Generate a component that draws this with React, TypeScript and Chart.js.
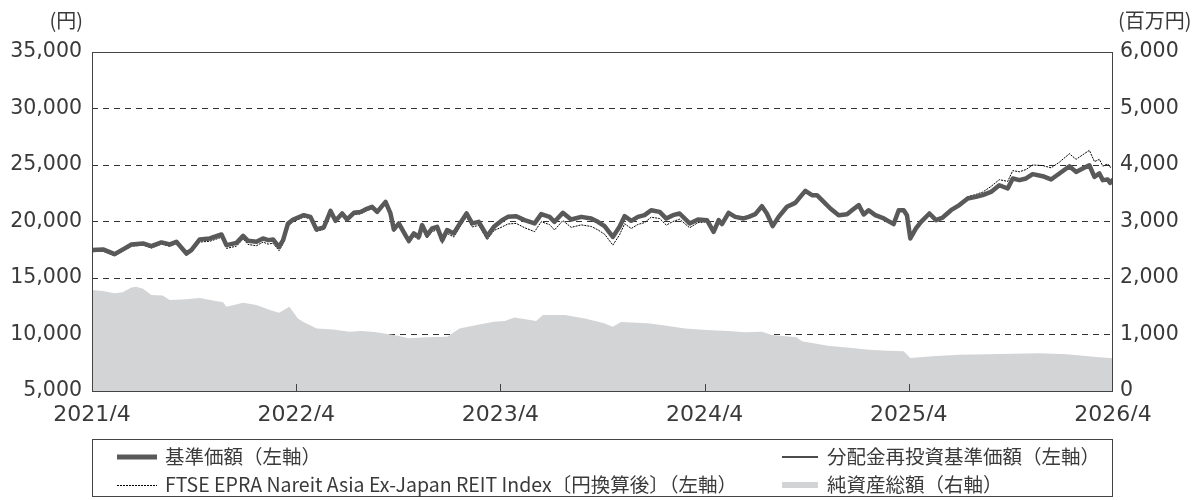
import React, { useEffect, useRef } from "react";
import { Chart, registerables } from "chart.js";

Chart.register(...registerables);

const FONT = "'Noto Sans CJK JP', 'Noto Sans', sans-serif";
const NUM_FONT = "'DejaVu Sans', 'Noto Sans', sans-serif";
const TEXT = "#3a3a3a";

// x values are months elapsed since 2021/4
const xTickLabels = ["2021/4", "2022/4", "2023/4", "2024/4", "2025/4", "2026/4"];
const leftUnit = "(円)";
const rightUnit = "(百万円)";

const navMonths = [
  0.0, 0.65, 1.33, 1.82, 2.32, 3.0, 3.49, 4.08, 4.57, 4.96,
  5.55, 5.84, 6.33, 6.92, 7.61, 7.9, 8.49, 8.88, 9.17, 9.66,
  10.05, 10.35, 10.64, 10.99, 11.23, 11.52, 11.82, 12.45, 12.84, 13.19,
  13.62, 14.02, 14.31, 14.7, 14.99, 15.39, 15.78, 16.07, 16.46, 16.76,
  17.25, 17.54, 17.74, 18.03, 18.42, 18.62, 18.91, 19.21, 19.4, 19.69,
  19.99, 20.28, 20.58, 20.87, 21.26, 21.56, 22.01, 22.34, 22.73, 23.22,
  23.62, 24.1, 24.44, 24.93, 25.42, 26.01, 26.4, 26.89, 27.18, 27.67,
  28.16, 28.75, 29.34, 29.73, 30.12, 30.61, 31.0, 31.3, 31.69, 32.08,
  32.47, 32.86, 33.36, 33.75, 34.14, 34.53, 35.12, 35.61, 36.14, 36.53,
  36.83, 37.02, 37.41, 37.8, 38.29, 38.59, 38.98, 39.37, 39.66, 40.0,
  40.35, 40.84, 41.33, 41.62, 41.92, 42.31, 42.6, 43.0, 43.39, 43.88,
  44.37, 44.66, 45.06, 45.35, 45.64, 46.03, 46.53, 47.11, 47.41, 47.7,
  47.89, 48.09, 48.42, 48.72, 49.21, 49.6, 49.99, 50.48, 50.97, 51.46,
  51.95, 52.34, 52.83, 53.32, 53.81, 54.11, 54.5, 54.89, 55.28, 55.87,
  56.36, 56.85, 57.44, 57.83, 58.22, 58.61, 58.91, 59.2, 59.4, 59.69,
  59.83, 60.0,
];

const navValues = [
  17470, 17530, 17110, 17530, 17970, 18060, 17820, 18150, 17970, 18200,
  17170, 17470, 18410, 18500, 18850, 17910, 18110, 18730, 18290, 18200,
  18500, 18350, 18410, 17760, 18350, 19830, 20180, 20560, 20410, 19300,
  19470, 20940, 20060, 20710, 20180, 20770, 20850, 21070, 21300, 20850,
  21740, 20710, 19300, 19830, 18790, 18290, 18940, 18640, 19680, 18790,
  19390, 19530, 18350, 19240, 18940, 19680, 20710, 19830, 19970, 18700,
  19530, 20120, 20410, 20470, 20120, 19830, 20650, 20410, 19970, 20770,
  20180, 20410, 20260, 19970, 19590, 18640, 19530, 20470, 20060, 20410,
  20560, 21000, 20850, 20260, 20560, 20710, 19830, 20180, 20120, 19080,
  20120, 19770, 20770, 20410, 20270, 20410, 20650, 21360, 20710, 19590,
  20410, 21300, 21650, 22180, 22710, 22330, 22330, 21740, 21150, 20560,
  20650, 21000, 21450, 20620, 21000, 20560, 20270, 19770, 21000, 21000,
  20560, 18500, 19390, 19970, 20710, 20120, 20350, 21000, 21450, 22040,
  22180, 22330, 22620, 23210, 22920, 23810, 23660, 23810, 24190, 24010,
  23720, 24250, 24890, 24390, 24690, 24980, 23950, 24250, 23660, 23720,
  23420, 23720,
];

// reinvested NAV lies exactly under the NAV line in the picture
const reinvestedValues = [
  17470, 17530, 17110, 17530, 17970, 18060, 17820, 18150, 17970, 18200,
  17170, 17470, 18410, 18500, 18850, 17910, 18110, 18730, 18290, 18200,
  18500, 18350, 18410, 17760, 18350, 19830, 20180, 20560, 20410, 19300,
  19470, 20940, 20060, 20710, 20180, 20770, 20850, 21070, 21300, 20850,
  21740, 20710, 19300, 19830, 18790, 18290, 18940, 18640, 19680, 18790,
  19390, 19530, 18350, 19240, 18940, 19680, 20710, 19830, 19970, 18700,
  19530, 20120, 20410, 20470, 20120, 19830, 20650, 20410, 19970, 20770,
  20180, 20410, 20260, 19970, 19590, 18640, 19530, 20470, 20060, 20410,
  20560, 21000, 20850, 20260, 20560, 20710, 19830, 20180, 20120, 19080,
  20120, 19770, 20770, 20410, 20270, 20410, 20650, 21360, 20710, 19590,
  20410, 21300, 21650, 22180, 22710, 22330, 22330, 21740, 21150, 20560,
  20650, 21000, 21450, 20620, 21000, 20560, 20270, 19770, 21000, 21000,
  20560, 18500, 19390, 19970, 20710, 20120, 20350, 21000, 21450, 22040,
  22180, 22330, 22620, 23210, 22920, 23810, 23660, 23810, 24190, 24010,
  23720, 24250, 24890, 24390, 24690, 24980, 23950, 24250, 23660, 23720,
  23420, 23720,
];

const indexValues = [
  17320, 17380, 16950, 17380, 17820, 17900, 17650, 18000, 17800, 18030,
  16980, 17300, 18180, 18250, 18600, 17620, 17820, 18450, 17970, 17850,
  18180, 18000, 18080, 17420, 18040, 19580, 19980, 20400, 20230, 19130,
  19300, 20780, 19890, 20540, 20000, 20600, 20670, 20900, 21120, 20660,
  21570, 20520, 19100, 19620, 18560, 18040, 18700, 18380, 19420, 18520,
  19110, 19250, 18060, 18940, 18630, 19380, 20410, 19520, 19650, 18380,
  19200, 19520, 19780, 19830, 19450, 19100, 19980, 19720, 19250, 20080,
  19480, 19700, 19560, 19260, 18880, 17910, 18820, 19800, 19380, 19740,
  19900, 20380, 20260, 19680, 20000, 20200, 19450, 19900, 19970, 18950,
  20000, 19680, 20650, 20300, 20200, 20340, 20580, 21300, 20640, 19520,
  20350, 21250, 21600, 22120, 22650, 22280, 22280, 21700, 21100, 20510,
  20600, 20960, 21400, 20580, 20960, 20520, 20230, 19730, 20960, 20970,
  20530, 18470, 19370, 19970, 20730, 20160, 20420, 21100, 21580, 22200,
  22400, 22600, 23100, 23700, 23550, 24500, 24400, 24600, 25000, 24950,
  24750, 25250, 26000, 25500, 25900, 26300, 25300, 25500, 24900, 25100,
  24800, 24900,
];

const assetMonths = [
  0, 0.63, 1.33, 1.8, 2.32, 2.6, 3.0, 3.49, 4.15, 4.57,
  5.33, 6.33, 7.1, 7.7, 7.9, 8.88, 9.66, 10.45, 11.0, 11.6,
  12.1, 12.4, 13.2, 14.15, 15.15, 15.8, 16.6, 17.74, 18.62, 19.7,
  20.87, 21.6, 22.6, 23.62, 24.25, 24.83, 26.1, 26.5, 27.8, 28.96,
  30.1, 30.6, 31.1, 32.66, 33.66, 34.85, 36.1, 37.4, 38.37, 39.37,
  39.96, 41.4, 41.72, 43.25, 44.66, 45.64, 46.8, 47.7, 48.09, 49.6,
  51.0, 53.36, 55.7, 57.3, 59.0, 60,
];

const assetValues = [
  1786, 1770, 1728, 1750, 1834, 1845, 1810, 1698, 1690, 1609,
  1620, 1645, 1600, 1570, 1491, 1560, 1520, 1432, 1385, 1491,
  1285, 1226, 1108, 1090, 1049, 1060, 1045, 990, 932, 950,
  961, 1108, 1167, 1226, 1238, 1303, 1238, 1344, 1344, 1285,
  1200, 1137, 1220, 1200, 1160, 1108, 1078, 1061, 1040, 1050,
  990, 950, 880, 800, 760, 730, 714, 705, 585, 619,
  640, 654, 666, 650, 600, 578,
];

const legendNav = "基準価額（左軸）";
const legendReinvested = "分配金再投資基準価額（左軸）";
const legendIndex = "FTSE EPRA Nareit Asia Ex-Japan REIT Index〔円換算後〕（左軸）";
const legendAssets = "純資産総額（右軸）";

const NAV_COLOR = "#595959";
const AREA_COLOR = "#d3d4d6";

const pairs = (xs: number[], ys: number[]) => xs.map((x, i) => ({ x, y: ys[i] }));

const framePlugin = {
  id: "frame",
  afterDatasetsDraw(chart: any) {
    const { ctx, chartArea } = chart;
    const { left, right, top, bottom } = chartArea;
    const xs = chart.scales.x;
    ctx.save();
    ctx.strokeStyle = "#444444";
    ctx.lineWidth = 1;
    ctx.setLineDash([]);
    ctx.strokeRect(Math.round(left) + 0.5, Math.round(top) + 0.5, Math.round(right - left) - 1, Math.round(bottom - top));
    for (let k = 1; k < xTickLabels.length - 1; k++) {
      const px = Math.round(xs.getPixelForValue(k * 12)) + 0.5;
      ctx.beginPath();
      ctx.moveTo(px, bottom);
      ctx.lineTo(px, bottom - 7);
      ctx.stroke();
    }
    ctx.fillStyle = TEXT;
    ctx.font = `20px ${FONT}`;
    ctx.textBaseline = "middle";
    ctx.textAlign = "right";
    ctx.fillText(leftUnit, 83, 20);
    ctx.textAlign = "left";
    ctx.fillText(rightUnit, 1118, 20);

    ctx.strokeStyle = "#444444";
    ctx.strokeRect(92.5, 439.5, 1020, 57);
    const row1 = 457;
    const row2 = 485;
    ctx.lineCap = "butt";
    ctx.strokeStyle = NAV_COLOR;
    ctx.lineWidth = 5;
    ctx.beginPath();
    ctx.moveTo(117, row1);
    ctx.lineTo(157, row1);
    ctx.stroke();
    ctx.strokeStyle = "#000000";
    ctx.lineWidth = 1;
    ctx.setLineDash([2, 1]);
    ctx.beginPath();
    ctx.moveTo(117, row2 + 0.5);
    ctx.lineTo(157, row2 + 0.5);
    ctx.stroke();
    ctx.setLineDash([]);
    ctx.strokeStyle = "#111111";
    ctx.lineWidth = 1.5;
    ctx.beginPath();
    ctx.moveTo(782, row1);
    ctx.lineTo(818, row1);
    ctx.stroke();
    ctx.strokeStyle = AREA_COLOR;
    ctx.lineWidth = 6;
    ctx.beginPath();
    ctx.moveTo(782, row2);
    ctx.lineTo(818, row2);
    ctx.stroke();

    ctx.fillStyle = TEXT;
    ctx.font = `19.5px ${FONT}`;
    ctx.textAlign = "left";
    ctx.textBaseline = "middle";
    ctx.fillText(legendNav, 165, row1);
    ctx.fillText(legendIndex, 165, row2);
    ctx.fillText(legendReinvested, 827, row1);
    ctx.fillText(legendAssets, 827, row2);
    ctx.restore();
  },
};

export default function App() {
  const ref = useRef<HTMLCanvasElement>(null);

  useEffect(() => {
    document.body.style.margin = "0";
    const canvas = ref.current;
    if (!canvas) return;
    const yFont = { family: NUM_FONT, size: 20.5 };
    const xFont = { family: NUM_FONT, size: 22 };
    const chart = new Chart(canvas, {
      type: "line",
      data: {
        datasets: [
          {
            label: legendNav,
            data: pairs(navMonths, navValues),
            yAxisID: "y",
            borderColor: NAV_COLOR,
            borderWidth: 4.5,
            pointRadius: 0,
            tension: 0,
            fill: false,
            order: 0,
            borderJoinStyle: "round",
          },
          {
            label: legendReinvested,
            data: pairs(navMonths, reinvestedValues),
            yAxisID: "y",
            borderColor: "#111111",
            borderWidth: 1.2,
            pointRadius: 0,
            tension: 0,
            fill: false,
            order: 1,
          },
          {
            label: legendIndex,
            data: pairs(navMonths, indexValues),
            yAxisID: "y",
            borderColor: "#000000",
            borderWidth: 1,
            borderDash: [2, 1],
            pointRadius: 0,
            tension: 0,
            fill: false,
            order: 2,
          },
          {
            label: legendAssets,
            data: pairs(assetMonths, assetValues),
            yAxisID: "y1",
            borderColor: AREA_COLOR,
            borderWidth: 0,
            backgroundColor: AREA_COLOR,
            pointRadius: 0,
            tension: 0,
            fill: "origin",
            order: 3,
          },
        ],
      } as any,
      options: {
        responsive: false,
        animation: false,
        events: [],
        layout: { padding: { top: 52, bottom: 79, left: 0, right: 0 } },
        plugins: { legend: { display: false }, tooltip: { enabled: false } },
        scales: {
          x: {
            type: "linear",
            min: 0,
            max: 60,
            grid: { display: false, drawTicks: false },
            border: { display: false },
            ticks: {
              stepSize: 12,
              autoSkip: false,
              maxRotation: 0,
              padding: 11,
              color: TEXT,
              font: xFont,
              callback: (v: any) => xTickLabels[Math.round(Number(v) / 12)] ?? "",
            },
            afterFit: (s: any) => {
              s.height = 30;
            },
          },
          y: {
            position: "left",
            min: 5000,
            max: 35000,
            grid: {
              drawTicks: false,
              lineWidth: 1,
              color: (c: any) =>
                c.tick && (c.tick.value === 5000 || c.tick.value === 35000) ? "rgba(0,0,0,0)" : "#333333",
            },
            border: { display: false, dash: [6, 5] },
            ticks: {
              stepSize: 5000,
              padding: 10,
              color: TEXT,
              font: yFont,
              callback: (v: any) => Number(v).toLocaleString("en-US"),
            },
            afterFit: (s: any) => {
              s.width = 92;
            },
          },
          y1: {
            position: "right",
            min: 0,
            max: 6000,
            grid: { display: false, drawTicks: false },
            border: { display: false },
            ticks: {
              stepSize: 1000,
              padding: 7,
              color: TEXT,
              font: yFont,
              callback: (v: any) => Number(v).toLocaleString("en-US"),
            },
            afterFit: (s: any) => {
              s.width = 86;
            },
          },
        },
      } as any,
      plugins: [framePlugin],
    });
    return () => chart.destroy();
  }, []);

  return (
    <div style={{ width: 1199, height: 500, position: "relative" }}>
      <canvas ref={ref} width={1199} height={500} style={{ display: "block" }} />
    </div>
  );
}
